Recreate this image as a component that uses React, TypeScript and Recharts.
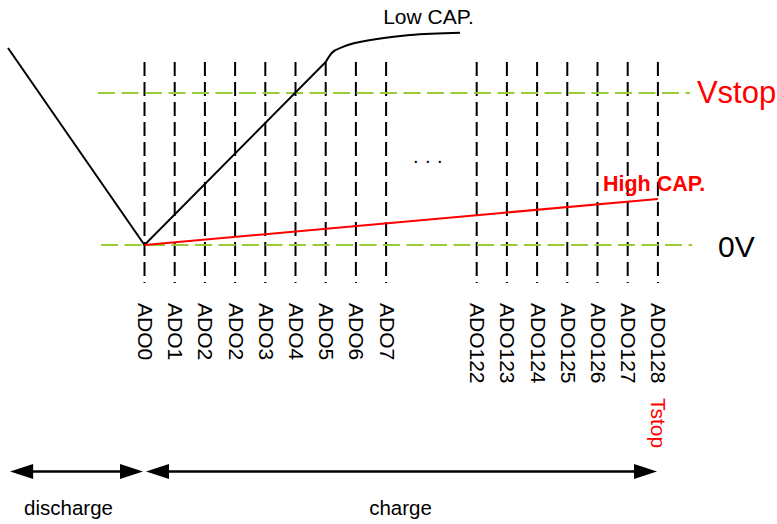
import {
  ComposedChart,
  Line,
  XAxis,
  YAxis,
  ReferenceLine,
  ReferenceDot,
} from "recharts";

const FONT = '"Liberation Sans", Arial, sans-serif';
const GREEN = "#9acb34";
const RED = "#ff0000";

// x = ADO sample slot, v = voltage normalised so Vstop = 1
const adoSlots = [0, 1, 2, 3, 4, 5, 6, 7, 8, 11, 12, 13, 14, 15, 16, 17];
const adoLabels = [
  "ADO0", "ADO1", "ADO2", "ADO2", "ADO3", "ADO4", "ADO5", "ADO6", "ADO7",
  "ADO122", "ADO123", "ADO124", "ADO125", "ADO126", "ADO127", "ADO128",
];

const lowCapRamp = [
  { t: -4.52, v: 1.296 },
  { t: 0, v: 0 },
  { t: 6, v: 1.204 },
];
const lowCapSat = [
  { t: 6, v: 1.204 },
  { t: 6.2, v: 1.263 },
  { t: 6.57, v: 1.303 },
  { t: 7.7, v: 1.355 },
  { t: 8.79, v: 1.382 },
  { t: 10.45, v: 1.397 },
];
const highCap = [
  { t: 0, v: 0 },
  { t: 17, v: 0.303 },
];

const phases = [
  { name: "discharge", from: -4.45, to: -0.05 },
  { name: "charge", from: 0.05, to: 16.97 },
];

const X_DOMAIN = [-4.785, 20.944];
const Y_DOMAIN = [-1.836, 1.612];
const COL_TOP = 1.204;
const COL_BOTTOM = -0.25;
const ARROW_V = -1.491;

function Note({ viewBox, text, ax = 0, dx = 0, dy = 0, color = "#000", size = 20, weight = "normal", anchor = "start", rotate = 0, spacing = 0, baseline }: any) {
  const x = viewBox.x + viewBox.width * ax + dx;
  const y = viewBox.y + dy;
  return (
    <text
      x={x}
      y={y}
      fill={color}
      fontSize={size}
      fontWeight={weight}
      fontFamily={FONT}
      textAnchor={anchor}
      letterSpacing={spacing}
      dominantBaseline={baseline}
      transform={rotate ? `rotate(${rotate} ${x} ${y})` : undefined}
    >
      {text}
    </text>
  );
}

function AdoTick({ x, payload }: any) {
  const label = adoLabels[adoSlots.indexOf(payload.value)];
  return (
    <text
      transform={`translate(${x + 1},303) rotate(90)`}
      fontSize={21}
      fontFamily={FONT}
      fill="#000"
      dominantBaseline="central"
    >
      {label}
    </text>
  );
}

function PhaseArrow({ x1, y1, x2 }: any) {
  const head = 23;
  const half = 7.5;
  const left = Math.min(x1, x2);
  const right = Math.max(x1, x2);
  const y = y1;
  return (
    <g>
      <line x1={left + head - 1} y1={y} x2={right - head + 1} y2={y} stroke="#000" strokeWidth={2.5} />
      <polygon points={`${left},${y} ${left + head},${y - half} ${left + head},${y + half}`} fill="#000" />
      <polygon points={`${right},${y} ${right - head},${y - half} ${right - head},${y + half}`} fill="#000" />
    </g>
  );
}

export default function App() {
  return (
    <div style={{ position: "absolute", left: 0, top: 0, background: "#fff" }}>
      <ComposedChart width={777} height={524} margin={{ top: 0, right: 0, bottom: 0, left: 0 }}>
        <XAxis
          dataKey="t"
          type="number"
          domain={X_DOMAIN}
          allowDataOverflow
          ticks={adoSlots}
          interval={0}
          tick={<AdoTick />}
          axisLine={false}
          tickLine={false}
          mirror
        />
        <YAxis type="number" domain={Y_DOMAIN} allowDataOverflow hide />

        {adoSlots.map((s) => (
          <ReferenceLine
            key={s}
            segment={[{ x: s, y: COL_TOP }, { x: s, y: COL_BOTTOM }]}
            stroke="#000"
            strokeWidth={2}
            strokeDasharray="14 6"
          />
        ))}

        <ReferenceLine
          segment={[{ x: -1.54, y: 1 }, { x: 18.06, y: 1 }]}
          stroke={GREEN}
          strokeWidth={2}
          strokeDasharray="17 6.5"
          label={<Note text="Vstop" ax={1} dx={7} dy={10} color={RED} size={31} />}
        />
        <ReferenceLine
          segment={[{ x: -1.44, y: 0 }, { x: 18.13, y: 0 }]}
          stroke={GREEN}
          strokeWidth={2}
          strokeDasharray="17 6.5"
          label={<Note text="0V" ax={1} dx={26} dy={12} size={30} />}
        />

        <Line data={lowCapRamp} dataKey="v" type="linear" stroke="#000" strokeWidth={2} dot={false} activeDot={false} isAnimationActive={false} />
        <Line data={lowCapSat} dataKey="v" type="monotone" stroke="#000" strokeWidth={2} dot={false} activeDot={false} isAnimationActive={false} />
        <Line data={highCap} dataKey="v" type="linear" stroke={RED} strokeWidth={2} dot={false} activeDot={false} isAnimationActive={false} />

        <ReferenceDot x={9.404} y={1.454} r={0} fill="none" stroke="none" label={<Note text="Low CAP." anchor="middle" size={21} />} />
        <ReferenceDot x={15.18} y={0.355} r={0} fill="none" stroke="none" label={<Note text="High CAP." color={RED} weight="bold" size={21.5} />} />
        <ReferenceDot x={9.487} y={0.539} r={0} fill="none" stroke="none" label={<Note text="..." anchor="middle" size={20} spacing={6.5} />} />
        <ReferenceDot x={17} y={-1.007} r={0} fill="none" stroke="none" label={<Note text="Tstop" color={RED} size={21} rotate={90} dx={1} baseline="central" />} />

        {phases.map((p, i) => (
          <ReferenceLine
            key={p.name}
            segment={[{ x: p.from, y: ARROW_V }, { x: p.to, y: ARROW_V }]}
            shape={<PhaseArrow />}
            label={<Note text={p.name} ax={0.5} dx={i === 0 ? -8 : -1} dy={43} anchor="middle" size={20.5} />}
          />
        ))}
      </ComposedChart>
    </div>
  );
}
